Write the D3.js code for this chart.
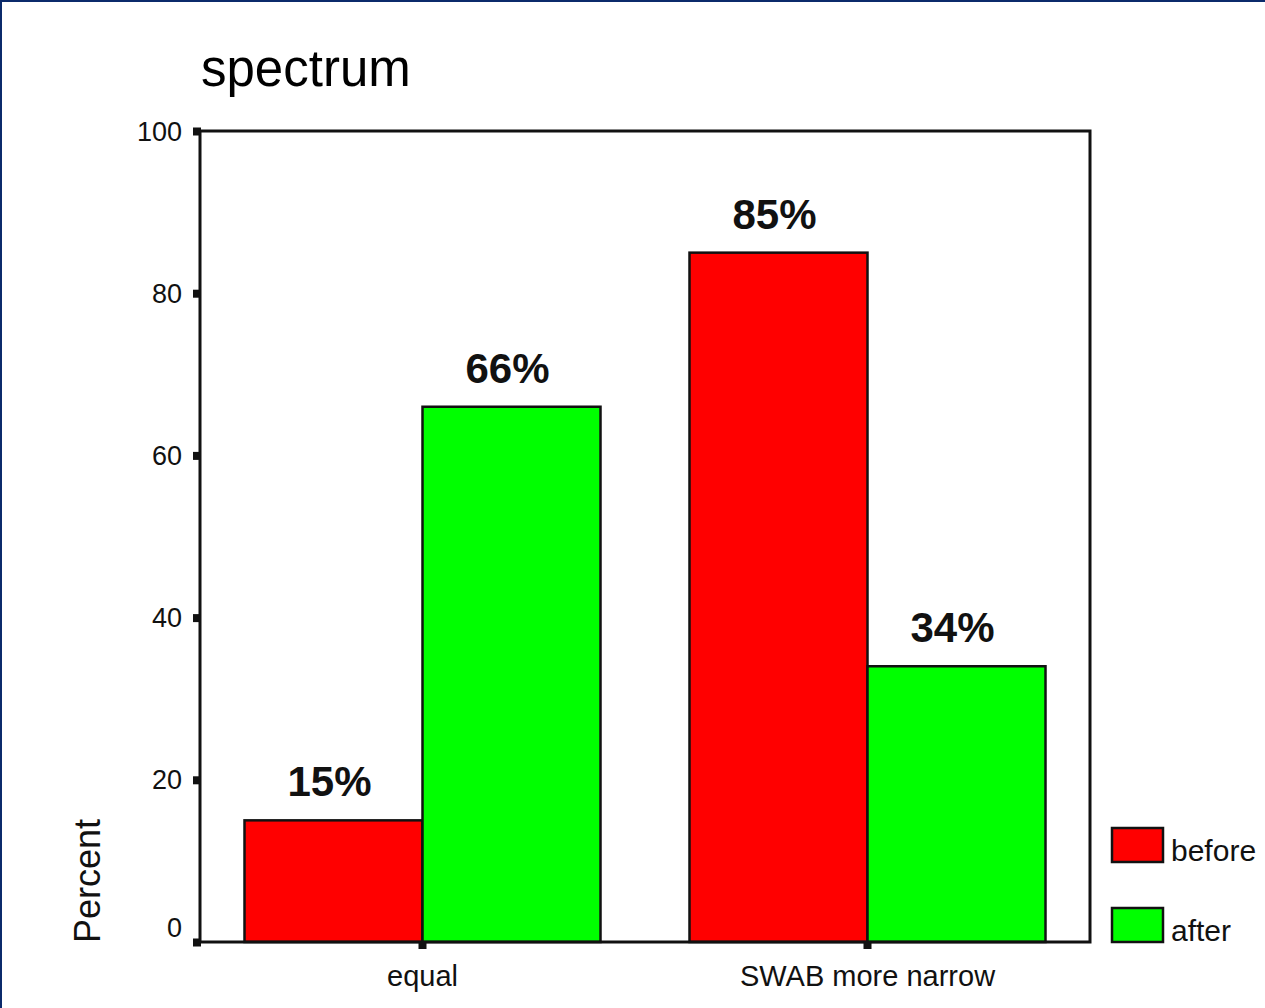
<!DOCTYPE html>
<html>
<head>
<meta charset="utf-8">
<script src="https://cdn.jsdelivr.net/npm/d3@7"></script>
<style>
  html, body { margin: 0; padding: 0; background: #fff; }
  svg { display: block; font-family: "Liberation Sans", Arial, sans-serif; }
</style>
</head>
<body>
<svg id="chart" width="1265" height="1008"></svg>
<script>
// Bar chart data
const categories = ["equal", "SWAB more narrow"];
const seriesNames = ["before", "after"];
const seriesColors = ["#ff0000", "#00ff00"];
const beforeValues = [15, 85];
const afterValues = [66, 34];
const yTicks = [0, 20, 40, 60, 80, 100];

const rows = categories.map((c, i) => ({
  category: c,
  values: [
    { key: seriesNames[0], value: beforeValues[i] },
    { key: seriesNames[1], value: afterValues[i] }
  ]
}));

const W = 1265, H = 1008;
const plot = { left: 200, right: 1090, top: 131, bottom: 942 };

const svg = d3.select("#chart");

// Slide frame (top and left edge)
svg.append("line").attr("x1", 0).attr("y1", 1).attr("x2", W).attr("y2", 1)
  .attr("stroke", "#0b2a6b").attr("stroke-width", 2);
svg.append("line").attr("x1", 1).attr("y1", 0).attr("x2", 1).attr("y2", H)
  .attr("stroke", "#0b2a6b").attr("stroke-width", 2);

const x0 = d3.scaleBand().domain(categories)
  .range([plot.left, plot.right]).paddingInner(0.2).paddingOuter(0.1);
const x1 = d3.scaleBand().domain(seriesNames).range([0, x0.bandwidth()]);
const y = d3.scaleLinear().domain([0, 100]).range([plot.bottom, plot.top]);
const color = d3.scaleOrdinal().domain(seriesNames).range(seriesColors);

// Title
svg.append("text").attr("x", 201).attr("y", 86)
  .attr("font-size", 51).attr("fill", "#000").text("spectrum");

// Bars
const groups = svg.append("g").selectAll("g").data(rows).join("g")
  .attr("transform", d => `translate(${x0(d.category)},0)`);

groups.selectAll("rect").data(d => d.values).join("rect")
  .attr("x", d => x1(d.key))
  .attr("y", d => y(d.value))
  .attr("width", x1.bandwidth())
  .attr("height", d => y(0) - y(d.value))
  .attr("fill", d => color(d.key))
  .attr("stroke", "#111").attr("stroke-width", 2.5);

// Value labels
groups.selectAll("text.val").data(d => d.values).join("text")
  .attr("class", "val")
  .attr("x", d => x1(d.key) + x1.bandwidth() / 2 - 4)
  .attr("y", d => y(d.value) - 24)
  .attr("text-anchor", "middle")
  .attr("font-size", 42).attr("font-weight", "bold").attr("fill", "#111")
  .text(d => d.value + "%");

// Plot frame
svg.append("rect")
  .attr("x", plot.left).attr("y", plot.top)
  .attr("width", plot.right - plot.left).attr("height", plot.bottom - plot.top)
  .attr("fill", "none").attr("stroke", "#111").attr("stroke-width", 3);

// Y axis
const yAxis = svg.append("g").attr("transform", `translate(${plot.left},0)`)
  .call(d3.axisLeft(y).tickValues(yTicks).tickSize(0).tickPadding(18));
yAxis.select(".domain").remove();
yAxis.selectAll("text")
  .attr("font-size", 27).attr("fill", "#111")
  .attr("font-family", "\"Liberation Sans\", Arial, sans-serif")
  .attr("dy", d => d === 0 ? "-0.2em" : "0.34em");
yAxis.selectAll(".tick").append("rect")
  .attr("x", -7).attr("y", -4).attr("width", 8).attr("height", 8).attr("fill", "#111");

// X axis
const xAxis = svg.append("g").attr("transform", `translate(0,${plot.bottom})`)
  .call(d3.axisBottom(x0).tickSize(0).tickPadding(23));
xAxis.select(".domain").remove();
xAxis.selectAll("text")
  .attr("font-size", 29).attr("fill", "#111")
  .attr("font-family", "\"Liberation Sans\", Arial, sans-serif");
xAxis.selectAll(".tick").append("rect")
  .attr("x", -4).attr("y", -1).attr("width", 8).attr("height", 8).attr("fill", "#111");

// Y axis title
svg.append("text")
  .attr("transform", "translate(100,943) rotate(-90)")
  .attr("font-size", 36).attr("fill", "#111").text("Percent");

// Legend
const legend = svg.append("g").selectAll("g").data(seriesNames).join("g")
  .attr("transform", (d, i) => `translate(1112,${828 + i * 80})`);
legend.append("rect")
  .attr("width", 51).attr("height", 34)
  .attr("fill", d => color(d)).attr("stroke", "#111").attr("stroke-width", 2.5);
legend.append("text")
  .attr("x", 59).attr("y", 33)
  .attr("font-size", 30).attr("fill", "#111").text(d => d);
</script>
</body>
</html>
